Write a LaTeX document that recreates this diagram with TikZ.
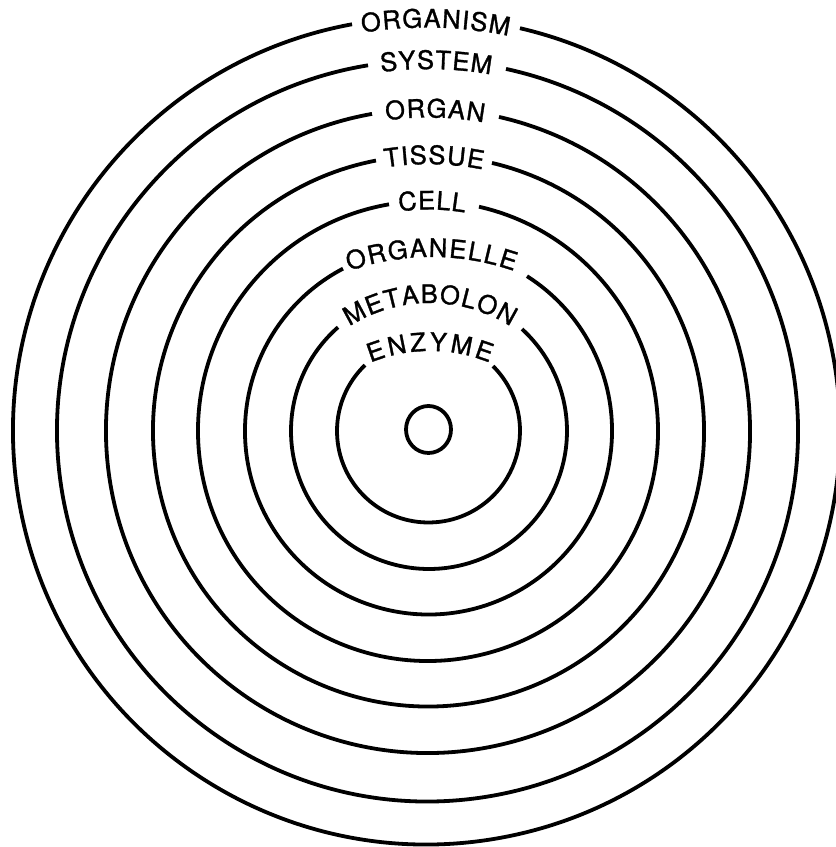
\documentclass[tikz,border=0pt]{standalone}
\usepackage{fontspec}
\newfontfamily\labfont{TeX Gyre Heros}[FakeBold=1.2]
\usetikzlibrary{decorations.text}
\newcommand\gapring[5]{%
  \pgfmathsetmacro\gL{acos((#4-#1)/#3)}%
  \pgfmathsetmacro\gR{acos((#5-#1)/#3)+360}%
  \pgfmathsetmacro\gY{847-#2}%
  \draw[ring] (#1pt,\gY pt) ++(\gL:#3pt) arc[start angle=\gL, end angle=\gR, radius=#3pt];%
}
\newcommand\arclabel[6]{%
  \pgfmathsetmacro\lM{acos((#4-#1)/#3)}%
  \pgfmathsetmacro\lA{\lM+deg(#5/(2*#3))}%
  \pgfmathsetmacro\lB{\lM-deg(#5/(2*#3))}%
  \pgfmathsetmacro\lY{847-#2}%
  \path[decorate, decoration={text along path,
      text={|\labfont\fontsize{25.5}{26}\selectfont|#6},
      text align={fit to path}}]
    (#1pt,\lY pt) ++(\lA:#3pt) arc[start angle=\lA, end angle=\lB, radius=#3pt];%
}
\begin{document}
\begin{tikzpicture}[ring/.style={line width=3.8pt, black}]
\clip (0,0) rectangle (836pt,847pt);
\fill[white] (0,0) rectangle (836pt,847pt);
% innermost circle
\draw[ring] (428.5pt,417.5pt) ellipse [x radius=22.5pt, y radius=23.5pt];
% rings with gaps for labels
\gapring{428.5}{431}{91.5}{365}{493}
\gapring{429}{431}{138}{338}{522}
\gapring{428.5}{431}{183.5}{343}{527}
\gapring{428}{431}{230}{389}{479}
\gapring{428.5}{431}{275.5}{376}{492}
\gapring{428}{431}{322}{372}{499}
\gapring{427.5}{431}{370.5}{368}{506}
\gapring{426.5}{431}{413.5}{352}{520}
% labels
\arclabel{426.5}{431}{403.5}{435.5}{147}{ORGANISM}
\arclabel{427.5}{431}{362}{436}{110}{SYSTEM}
\arclabel{428}{431}{313.5}{435}{98}{ORGAN}
\arclabel{428.5}{431}{267}{434}{98}{TISSUE}
\arclabel{428}{431}{221.5}{432}{66}{CELL}
\arclabel{431.5}{507}{250}{431.5}{168}{ORGANELLE}
\arclabel{430}{453}{150}{430}{170}{METABOLON}
\arclabel{430}{509}{158}{430}{122}{ENZYME}
\end{tikzpicture}
\end{document}
